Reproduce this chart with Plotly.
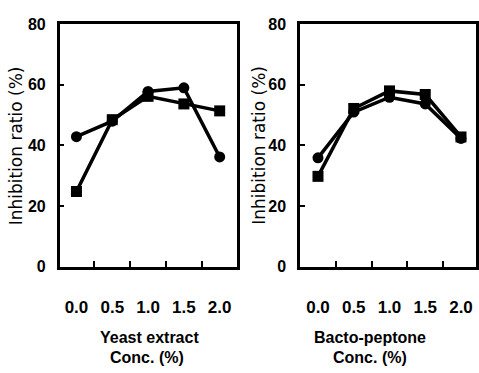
import plotly.graph_objects as go

conc_labels = ["0.0", "0.5", "1.0", "1.5", "2.0"]
yeast_circle = [42.9, 48.0, 57.8, 59.0, 36.2]
yeast_square = [24.8, 48.5, 56.2, 53.7, 51.4]
pept_circle = [35.9, 51.0, 55.9, 53.7, 42.3]
pept_square = [29.8, 52.2, 58.0, 56.8, 42.8]
y_ticks = [0, 20, 40, 60, 80]

W, H = 479, 373
fig = go.Figure()

line_style = dict(color="black", width=3.5)
narrow = "Liberation Sans, Arial, sans-serif"
tick_font = dict(family=narrow, size=17, color="black", weight="bold")
ytick_font = dict(family=narrow, size=16, color="black", weight="bold")

def add(xaxis, yaxis, ys, symbol):
    fig.add_trace(go.Scatter(
        x=conc_labels, y=ys, mode="lines+markers",
        line=line_style,
        marker=dict(symbol=symbol, size=11, color="black"),
        xaxis=xaxis, yaxis=yaxis, showlegend=False, cliponaxis=False))

add("x", "y", yeast_circle, "circle")
add("x", "y", yeast_square, "square")
add("x2", "y2", pept_circle, "circle")
add("x2", "y2", pept_square, "square")

y_dom = [1 - 271 / H, 1 - 17 / H]
xcommon = dict(type="category", tickson="boundaries", ticks="inside", ticklen=6,
               tickwidth=2, tickcolor="black", showline=True, linecolor="black",
               linewidth=2.5, mirror=True, showgrid=False, zeroline=False,
               tickfont=tick_font, ticklabelstandoff=23, tickangle=0)
ycommon = dict(range=[0, 80], tickvals=y_ticks, ticks="inside", ticklen=5,
               tickwidth=1.5, tickcolor="black", showline=True, linecolor="black",
               linewidth=2.5, mirror=True, showgrid=False, zeroline=False,
               tickfont=ytick_font, ticklabelstandoff=8, domain=y_dom)

fig.update_layout(
    width=W, height=H, margin=dict(l=0, r=0, t=0, b=0),
    paper_bgcolor="white", plot_bgcolor="white",
    xaxis=dict(xcommon, domain=[60 / W, 238 / W], range=[-0.47, 4.47], anchor="y"),
    yaxis=dict(ycommon, anchor="x"),
    xaxis2=dict(xcommon, domain=[302 / W, 1.0], range=[-0.5, 4.42], anchor="y2"),
    yaxis2=dict(ycommon, anchor="x2"),
)

title_font = dict(family=narrow, size=16, color="black", weight="bold")
ytitle_font = dict(family="DejaVu Sans", size=17, color="black")

annotations = [
    dict(text="Yeast extract", x=150 / W, y=1 - 345 / H),
    dict(text="Conc. (%)", x=148 / W, y=1 - 366 / H),
    dict(text="Bacto-peptone", x=372 / W, y=1 - 345 / H),
    dict(text="Conc. (%)", x=372 / W, y=1 - 366 / H),
]
for a in annotations:
    fig.add_annotation(xref="paper", yref="paper", showarrow=False,
                       xanchor="center", yanchor="middle", font=title_font,
                       **a)
for xp in (17, 261):
    fig.add_annotation(xref="paper", yref="paper", showarrow=False,
                       x=xp / W, y=1 - 144 / H, text="Inhibition ratio (%)",
                       textangle=-90, xanchor="center", yanchor="middle",
                       font=ytitle_font)

fig.write_html("out.html")
